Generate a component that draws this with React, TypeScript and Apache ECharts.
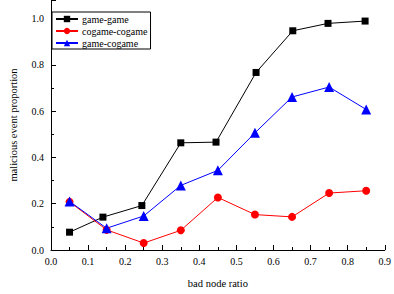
import React, { useEffect, useRef } from "react";
import * as echarts from "echarts";

const ratios = [0.05, 0.15, 0.25, 0.35, 0.45, 0.55, 0.65, 0.75, 0.85];
const gameGameX = [0.05, 0.14, 0.245, 0.35, 0.445, 0.553, 0.652, 0.747, 0.847];
const gameGame = [0.077, 0.142, 0.192, 0.463, 0.466, 0.767, 0.947, 0.979, 0.989];
const cogameCogame = [0.208, 0.087, 0.03, 0.085, 0.227, 0.153, 0.143, 0.246, 0.256];
const gameCogame = [0.21, 0.094, 0.147, 0.279, 0.344, 0.506, 0.661, 0.704, 0.607];

const FONT = "Times New Roman";

const pairs = (xs: number[], ys: number[]) => ys.map((y, i) => [xs[i], y]);

export default function App() {
  const ref = useRef<HTMLDivElement>(null);
  useEffect(() => {
    if (!ref.current) return;
    const chart = echarts.init(ref.current, undefined, { renderer: "svg" });
    const axisCommon = {
      axisLine: { show: true, lineStyle: { color: "#000", width: 1 } },
      axisTick: { show: true, inside: true, length: 5, lineStyle: { color: "#000" } },
      minorTick: { show: true, splitNumber: 2, length: 3, lineStyle: { color: "#000" } },
      splitLine: { show: false },
      axisLabel: { color: "#000", fontFamily: FONT, fontSize: 10 },
      nameTextStyle: { color: "#000", fontFamily: FONT, fontSize: 10.5 },
    };
    chart.setOption({
      animation: false,
      textStyle: { fontFamily: FONT },
      grid: { left: 41, right: 7, top: 0, bottom: 44 },
      legend: {
        orient: "vertical",
        left: 52,
        top: 12,
        padding: [2, 3, 1, 3],
        itemGap: 2,
        itemWidth: 22,
        itemHeight: 8,
        borderColor: "#000",
        borderWidth: 1,
        backgroundColor: "#fff",
        textStyle: { color: "#000", fontFamily: FONT, fontSize: 10, padding: [0, 0, 0, -1] },
        data: ["game-game", "cogame-cogame", "game-cogame"],
      },
      xAxis: {
        type: "value",
        min: 0,
        max: 0.9,
        interval: 0.1,
        name: "bad node ratio",
        nameLocation: "middle",
        nameGap: 28,
        ...axisCommon,
        axisLabel: { ...axisCommon.axisLabel, margin: 6, formatter: (v: number) => v.toFixed(1) },
      },
      yAxis: {
        type: "value",
        min: 0,
        max: 1.08,
        interval: 0.2,
        name: "malicious event proportion",
        nameLocation: "middle",
        nameGap: 32,
        ...axisCommon,
        axisLabel: {
          ...axisCommon.axisLabel,
          margin: 7,
          showMaxLabel: false,
          formatter: (v: number) => v.toFixed(1),
        },
      },
      series: [
        {
          name: "game-game",
          type: "line",
          data: pairs(gameGameX, gameGame),
          symbol: "rect",
          symbolSize: 7,
          itemStyle: { color: "#000" },
          lineStyle: { color: "#000", width: 1 },
        },
        {
          name: "cogame-cogame",
          type: "line",
          data: pairs(ratios, cogameCogame),
          symbol: "circle",
          symbolSize: 8,
          itemStyle: { color: "#ff0000" },
          lineStyle: { color: "#ff0000", width: 1 },
        },
        {
          name: "game-cogame",
          type: "line",
          data: pairs(ratios, gameCogame),
          symbol: "triangle",
          symbolSize: 10,
          itemStyle: { color: "#0000ff" },
          lineStyle: { color: "#0000ff", width: 1 },
        },
      ],
    });
    return () => chart.dispose();
  }, []);
  return <div ref={ref} style={{ width: 394, height: 294, position: "absolute", left: 0, top: 0, background: "#fff" }} />;
}
